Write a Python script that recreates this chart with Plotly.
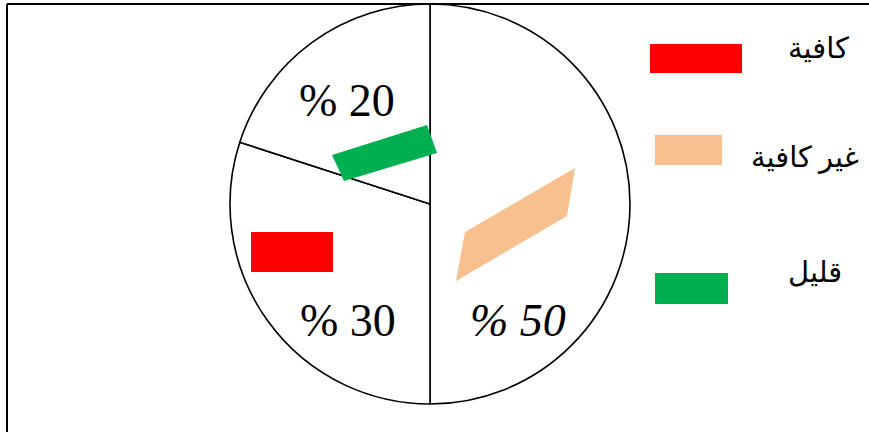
import plotly.graph_objects as go

W, H = 869, 432

# ---- data ----
categories = ["غير كافية", "كافية", "قليل"]
values = [50, 30, 20]
legend_labels = ["كافية", "غير كافية", "قليل"]
legend_colors = ["#FF0000", "#F8C08F", "#00B050"]


def px(x, y):
    return x / W, 1 - y / H


def path_from(pts):
    s = ""
    for i, (x, y) in enumerate(pts):
        fx, fy = px(x, y)
        s += ("M" if i == 0 else "L") + f"{fx:.5f},{fy:.5f} "
    return s + "Z"


fig = go.Figure()
fig.add_trace(go.Pie(
    labels=categories,
    values=values,
    sort=False,
    direction="clockwise",
    rotation=0,
    marker=dict(colors=["white"] * 3, line=dict(color="black", width=1.6)),
    textinfo="none",
    hoverinfo="label+percent",
    showlegend=False,
    domain=dict(x=[226 / W, 634 / W], y=[1 - 404 / H, 1 - 4 / H]),
))

shapes = []
# frame lines (top & left)
shapes.append(dict(type="line", xref="paper", yref="paper",
                   x0=7 / W, x1=1, y0=1 - 4 / H, y1=1 - 4 / H,
                   line=dict(color="black", width=2)))
shapes.append(dict(type="line", xref="paper", yref="paper",
                   x0=7 / W, x1=7 / W, y0=0, y1=1 - 4 / H,
                   line=dict(color="black", width=2)))

# decorative coloured marks inside slices
inner_marks = {
    "قليل": [(332, 155), (427, 125), (437, 153), (344, 181)],
    "كافية": [(251, 232), (333, 232), (333, 272), (251, 272)],
    "غير كافية": [(465, 232), (575, 168), (567, 216), (456, 281)],
}
color_of = dict(zip(legend_labels, legend_colors))
for name, pts in inner_marks.items():
    shapes.append(dict(type="path", xref="paper", yref="paper",
                       path=path_from(pts), fillcolor=color_of[name],
                       line=dict(width=0), layer="above"))

# legend swatches
swatches = [(650, 44, 742, 73), (655, 135, 722, 165), (655, 273, 728, 304)]
for (x0, y0, x1, y1), c in zip(swatches, legend_colors):
    fx0, fy0 = px(x0, y0)
    fx1, fy1 = px(x1, y1)
    shapes.append(dict(type="rect", xref="paper", yref="paper",
                       x0=fx0, x1=fx1, y0=fy1, y1=fy0,
                       fillcolor=c, line=dict(width=0)))

annotations = []
# legend text
legend_text_pos = [(818, 48), (805, 157), (815, 272)]
for (x, y), t in zip(legend_text_pos, legend_labels):
    fx, fy = px(x, y)
    annotations.append(dict(xref="paper", yref="paper", x=fx, y=fy,
                            text=t, showarrow=False,
                            xanchor="center", yanchor="middle",
                            font=dict(family="Liberation Serif, DejaVu Sans",
                                      size=29, color="black")))

# percentage labels
label_pos = {"غير كافية": (518, 320), "كافية": (348, 320), "قليل": (347, 100)}
for cat, v in zip(categories, values):
    x, y = label_pos[cat]
    fx, fy = px(x, y)
    txt = f"% {v}"
    if v == 50:
        txt = f"<i>{txt}</i>"
    annotations.append(dict(xref="paper", yref="paper", x=fx, y=fy,
                            text=txt, showarrow=False,
                            xanchor="center", yanchor="middle",
                            font=dict(family="Liberation Serif", size=46,
                                      color="black")))

fig.update_layout(
    width=W, height=H,
    margin=dict(l=0, r=0, t=0, b=0),
    paper_bgcolor="white", plot_bgcolor="white",
    shapes=shapes, annotations=annotations,
    showlegend=False,
)

fig.write_html("out.html",
               config={"displayModeBar": False},
               post_script="document.body.style.margin='0';document.body.style.overflow='hidden';")
